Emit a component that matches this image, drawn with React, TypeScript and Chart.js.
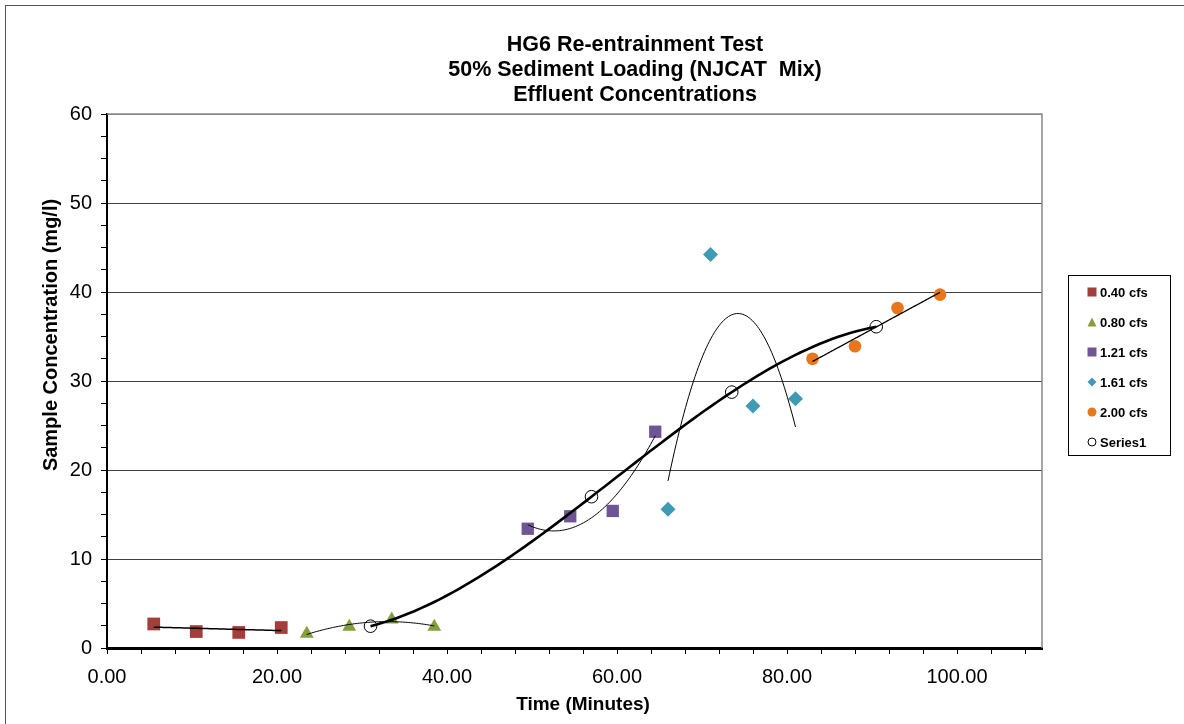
import React, { useEffect, useRef } from 'react';
import { Chart, registerables } from 'chart.js';

Chart.register(...registerables);

const FONT = '"Liberation Sans", Arial, sans-serif';

const titleLines = ['HG6 Re-entrainment Test', '50% Sediment Loading (NJCAT  Mix)', 'Effluent Concentrations'];
const xAxisTitle = 'Time (Minutes)';
const yAxisTitle = 'Sample Concentration (mg/l)';

// Series data (time in minutes, concentration in mg/l)
const time040 = [5.5, 10.5, 15.5, 20.5];
const conc040 = [2.7, 1.85, 1.75, 2.3];
const time080 = [23.5, 28.5, 33.5, 38.5];
const conc080 = [1.6, 2.4, 3.2, 2.4];
const time121 = [49.5, 54.5, 59.5, 64.5];
const conc121 = [13.4, 14.8, 15.4, 24.3];
const time161 = [66, 71, 76, 81];
const conc161 = [15.6, 44.2, 27.2, 28.0];
const time200 = [83, 88, 93, 98];
const conc200 = [32.5, 33.9, 38.2, 39.7];
const timeSeries1 = [31, 57, 73.5, 90.5];
const concSeries1 = [2.45, 17.0, 28.75, 36.1];

const seriesNames = ['0.40 cfs', '0.80 cfs', '1.21 cfs', '1.61 cfs', '2.00 cfs', 'Series1'];
const seriesTimes = [time040, time080, time121, time161, time200, timeSeries1];
const seriesConcs = [conc040, conc080, conc121, conc161, conc200, concSeries1];
const seriesColors = ['#A33E3B', '#849F3E', '#6F5595', '#3F9BB3', '#E8761B', '#000000'];
const seriesFills = ['#A33E3B', '#849F3E', '#6F5595', '#3F9BB3', '#E8761B', 'rgba(255,255,255,0)'];
const seriesMarkers = ['rect', 'triangle', 'rect', 'rectRot', 'circle', 'circle'];
const markerRadii = [9, 8, 8.7, 7.5, 6.3, 6.3];
const trendOrders = [1, 2, 2, 2, 1, 3];
const trendWidths = [1.5, 1, 1, 1, 1.3, 2.6];

const xMin = 0;
const xMax = 110;
const xTickStep = 4;
const xLabelStep = 20;
const yMin = 0;
const yMax = 60;
const yTickStep = 2.5;
const yLabelStep = 10;

function polyFit(xs: number[], ys: number[], order: number): { coef: number[]; mean: number } {
  const mean = xs.reduce((s, v) => s + v, 0) / xs.length;
  const us = xs.map((v) => v - mean);
  const n = order + 1;
  const A: number[][] = [];
  for (let r = 0; r < n; r++) {
    const row: number[] = [];
    for (let c = 0; c < n; c++) row.push(us.reduce((s, u) => s + Math.pow(u, r + c), 0));
    row.push(us.reduce((s, u, i) => s + ys[i] * Math.pow(u, r), 0));
    A.push(row);
  }
  for (let i = 0; i < n; i++) {
    let p = i;
    for (let k = i + 1; k < n; k++) if (Math.abs(A[k][i]) > Math.abs(A[p][i])) p = k;
    [A[i], A[p]] = [A[p], A[i]];
    for (let k = i + 1; k < n; k++) {
      const f = A[k][i] / A[i][i];
      for (let c = i; c <= n; c++) A[k][c] -= f * A[i][c];
    }
  }
  const coef = new Array(n).fill(0);
  for (let i = n - 1; i >= 0; i--) {
    let s = A[i][n];
    for (let c = i + 1; c < n; c++) s -= A[i][c] * coef[c];
    coef[i] = s / A[i][i];
  }
  return { coef, mean };
}

function trendCurve(xs: number[], ys: number[], order: number) {
  const { coef, mean } = polyFit(xs, ys, order);
  const lo = Math.min(...xs);
  const hi = Math.max(...xs);
  const steps = 80;
  const pts: { x: number; y: number }[] = [];
  for (let i = 0; i <= steps; i++) {
    const x = lo + ((hi - lo) * i) / steps;
    const u = x - mean;
    let y = 0;
    for (let k = coef.length - 1; k >= 0; k--) y = y * u + coef[k];
    pts.push({ x, y });
  }
  return pts;
}

function drawMarker(ctx: CanvasRenderingContext2D, style: string, x: number, y: number, size: number, fill: string, stroke: string | null) {
  const h = size / 2;
  ctx.beginPath();
  if (style === 'rect') ctx.rect(x - h, y - h, size, size);
  else if (style === 'triangle') {
    ctx.moveTo(x, y - h);
    ctx.lineTo(x + h, y + h);
    ctx.lineTo(x - h, y + h);
    ctx.closePath();
  } else if (style === 'rectRot') {
    ctx.moveTo(x, y - h);
    ctx.lineTo(x + h, y);
    ctx.lineTo(x, y + h);
    ctx.lineTo(x - h, y);
    ctx.closePath();
  } else ctx.arc(x, y, h, 0, Math.PI * 2);
  ctx.fillStyle = fill;
  ctx.fill();
  if (stroke) {
    ctx.strokeStyle = stroke;
    ctx.lineWidth = 1;
    ctx.stroke();
  }
}

const decorPlugin = {
  id: 'decor',
  afterDraw(chart: any) {
    const ctx: CanvasRenderingContext2D = chart.ctx;
    const area = chart.chartArea;
    ctx.save();
    // outer chart frame
    ctx.strokeStyle = '#555';
    ctx.lineWidth = 1;
    ctx.strokeRect(5.5, 5.5, 1300, 900);
    // plot area top and right border
    ctx.strokeStyle = '#888';
    ctx.lineWidth = 1.5;
    ctx.beginPath();
    ctx.moveTo(area.left, area.top);
    ctx.lineTo(area.right, area.top);
    ctx.lineTo(area.right, area.bottom);
    ctx.stroke();
    // title
    ctx.fillStyle = '#000';
    ctx.font = `bold 21.5px ${FONT}`;
    ctx.textAlign = 'center';
    ctx.textBaseline = 'alphabetic';
    titleLines.forEach((t, i) => ctx.fillText(t, 635, 50.5 + i * 25));
    // axis titles
    ctx.font = `bold 19px ${FONT}`;
    ctx.textBaseline = 'middle';
    ctx.fillText(xAxisTitle, 583, 705);
    ctx.save();
    ctx.translate(51, 335);
    ctx.rotate(-Math.PI / 2);
    ctx.font = `bold 20px ${FONT}`;
    ctx.fillText(yAxisTitle, 0, 0);
    ctx.restore();
    // legend
    const lx = 1068.5, ly = 275.5, lw = 102, lh = 180;
    ctx.fillStyle = '#fff';
    ctx.fillRect(lx, ly, lw, lh);
    ctx.strokeStyle = '#000';
    ctx.lineWidth = 1;
    ctx.strokeRect(lx, ly, lw, lh);
    ctx.font = `bold 13px ${FONT}`;
    ctx.textAlign = 'left';
    ctx.textBaseline = 'middle';
    seriesNames.forEach((name, i) => {
      const cy = 292 + i * 30;
      const isHollow = i === seriesNames.length - 1;
      drawMarker(ctx, seriesMarkers[i], 1092, cy, isHollow ? 8 : 9, isHollow ? '#fff' : seriesColors[i], isHollow ? '#000' : null);
      ctx.fillStyle = '#000';
      ctx.fillText(name, 1100, cy + 1);
    });
    ctx.restore();
  },
};

export default function App() {
  const ref = useRef<HTMLCanvasElement>(null);
  useEffect(() => {
    document.body.style.margin = '0';
    const datasets: any[] = [];
    seriesNames.forEach((name, i) => {
      datasets.push({
        label: name + ' trend',
        data: trendCurve(seriesTimes[i], seriesConcs[i], trendOrders[i]),
        showLine: true,
        pointRadius: 0,
        borderColor: '#000',
        borderWidth: trendWidths[i],
        tension: 0,
        fill: false,
        order: 0,
      });
    });
    seriesNames.forEach((name, i) => {
      datasets.push({
        label: name,
        data: seriesTimes[i].map((x, j) => ({ x, y: seriesConcs[i][j] })),
        showLine: false,
        pointStyle: seriesMarkers[i],
        pointRadius: markerRadii[i],
        pointHoverRadius: markerRadii[i],
        backgroundColor: seriesFills[i],
        borderColor: seriesColors[i],
        borderWidth: i === seriesNames.length - 1 ? 1 : 0,
        order: 1,
      });
    });
    const chart = new Chart(ref.current as HTMLCanvasElement, {
      type: 'scatter',
      data: { datasets },
      plugins: [decorPlugin],
      options: {
        animation: false,
        responsive: false,
        devicePixelRatio: 1,
        layout: { padding: { left: 0, top: 114, right: 142, bottom: 0 } },
        plugins: { legend: { display: false }, title: { display: false }, tooltip: { enabled: false } },
        scales: {
          x: {
            type: 'linear',
            min: xMin,
            max: xMax,
            afterFit: (s: any) => { s.height = 76; },
            border: { display: true, color: '#000', width: 3 },
            grid: { color: 'rgba(0,0,0,0)', tickColor: '#000', tickLength: 6, tickWidth: 1 },
            ticks: {
              stepSize: xTickStep,
              autoSkip: false,
              includeBounds: false,
              maxRotation: 0,
              padding: 11,
              color: '#000',
              font: { family: FONT, size: 20 },
              callback: (v: any) => (Math.abs(v % xLabelStep) < 1e-9 ? Number(v).toFixed(2) : ''),
            },
            title: { display: false },
          },
          y: {
            type: 'linear',
            min: yMin,
            max: yMax,
            afterFit: (s: any) => { s.width = 107; },
            border: { display: true, color: '#000', width: 2 },
            grid: {
              color: (c: any) => {
                const v = c.tick ? c.tick.value : 0;
                if (v === yMax) return '#888';
                if (v !== 0 && Math.abs(v % yLabelStep) < 1e-9) return '#404040';
                return 'rgba(0,0,0,0)';
              },
              tickColor: '#000',
              tickLength: 6,
              tickWidth: 1,
            },
            ticks: {
              stepSize: yTickStep,
              autoSkip: false,
              padding: 9,
              color: '#000',
              font: { family: FONT, size: 20 },
              callback: (v: any) => (Math.abs(v % yLabelStep) < 1e-9 ? String(v) : ''),
            },
            title: { display: false },
          },
        },
      } as any,
    });
    return () => chart.destroy();
  }, []);
  return (
    <div style={{ width: 1184, height: 724, background: '#fff' }}>
      <canvas ref={ref} width={1184} height={724} style={{ display: 'block' }} />
    </div>
  );
}
